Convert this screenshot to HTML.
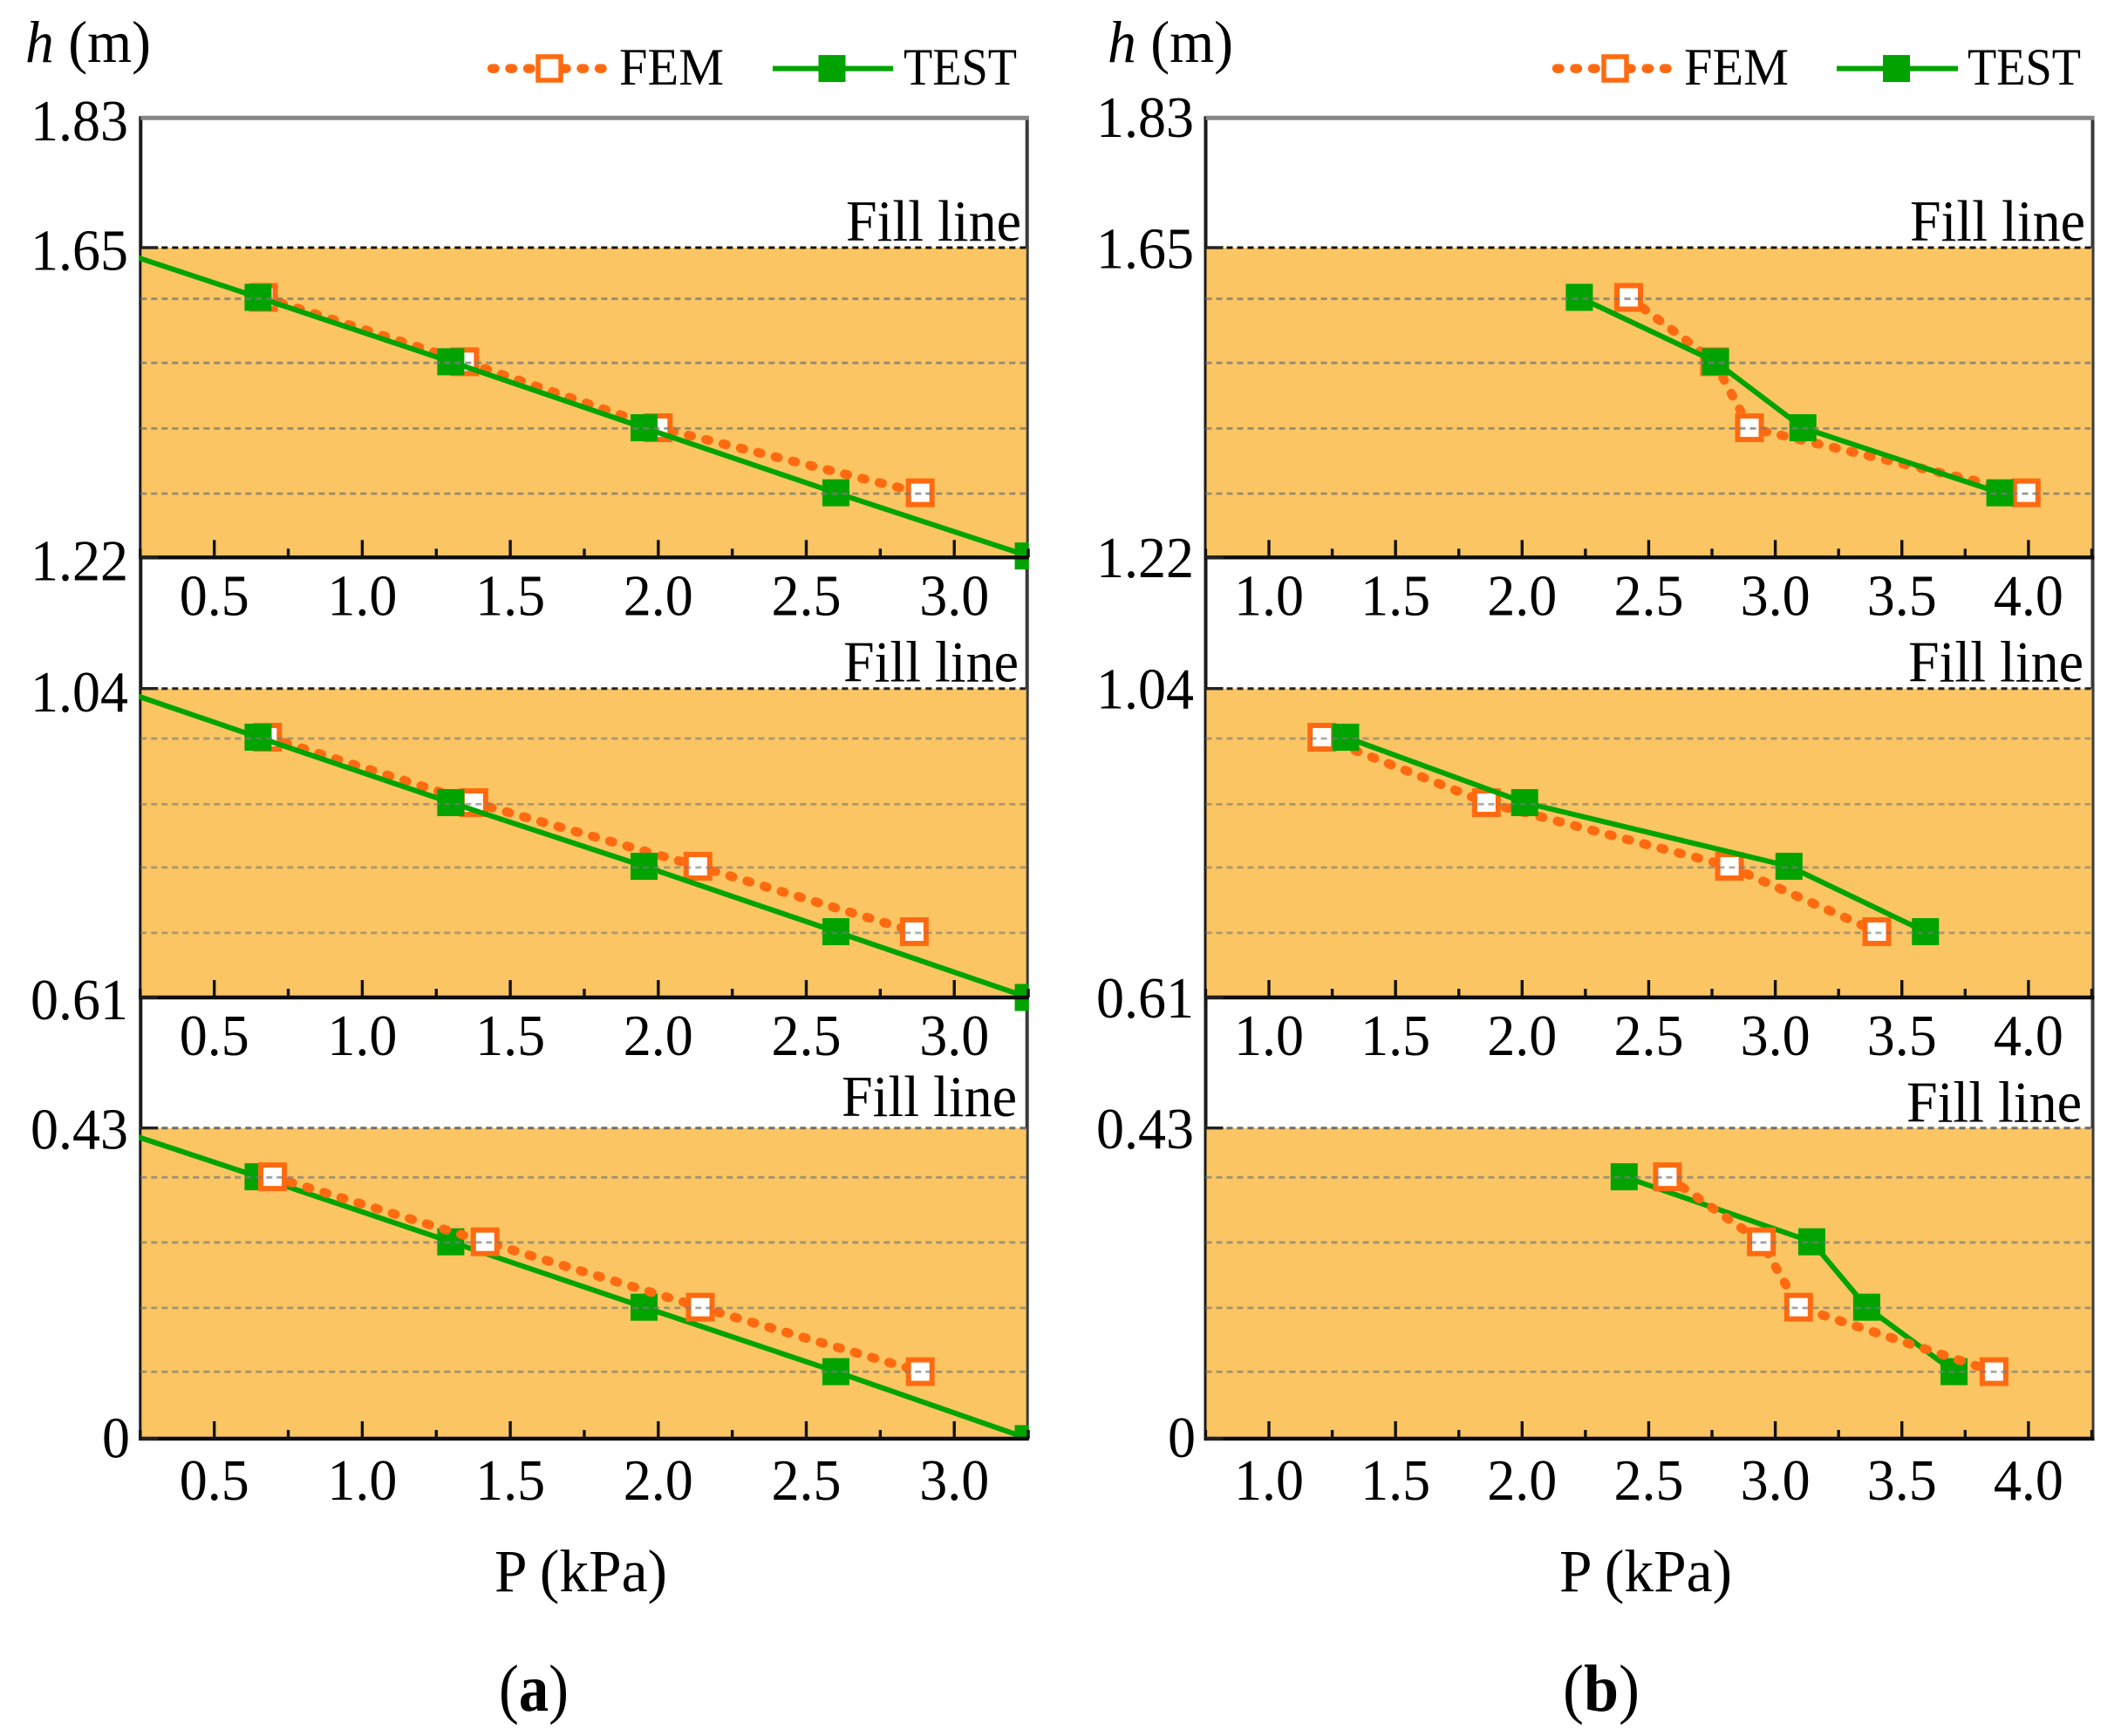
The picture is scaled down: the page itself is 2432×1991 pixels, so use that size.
<!DOCTYPE html>
<html lang="en">
<head>
<meta charset="utf-8">
<title>Pressure versus height: FEM and TEST</title>
<style>
html,body{margin:0;padding:0;background:#fff;}
svg{display:block;font-family:"Liberation Serif","Times New Roman",serif;fill:#000;}
text{fill:#000;}
</style>
</head>
<body>
<svg id="chart" xmlns="http://www.w3.org/2000/svg" width="2432" height="1991" viewBox="0 0 2432 1991">
  <rect x="0" y="0" width="2432" height="1991" fill="#ffffff"/>

  <g>
    <text x="29" y="71" font-size="68" textLength="144" lengthAdjust="spacingAndGlyphs"><tspan font-style="italic">h</tspan> (m)</text>
    <line x1="564" y1="78.6" x2="694" y2="78.6" stroke="#FF6A10" stroke-width="10.5" stroke-linecap="round" stroke-dasharray="3.5 17"/>
    <rect x="617" y="65" width="26" height="27" fill="#ffffff" stroke="#FF6A10" stroke-width="5.5"/>
    <text x="710" y="97" font-size="60" textLength="120" lengthAdjust="spacingAndGlyphs">FEM</text>
    <line x1="886" y1="78.6" x2="1024" y2="78.6" stroke="#00A300" stroke-width="6"/>
    <rect x="938.5" y="63.1" width="31" height="31" fill="#00A300"/>
    <text x="1036" y="97" font-size="60" textLength="130" lengthAdjust="spacingAndGlyphs">TEST</text>
    <text x="666" y="1825" font-size="69" text-anchor="middle" textLength="198" lengthAdjust="spacingAndGlyphs">P (kPa)</text>
    <text x="612" y="1962" font-size="76" font-weight="bold" text-anchor="middle" textLength="80" lengthAdjust="spacingAndGlyphs"><tspan font-weight="normal">(</tspan>a<tspan font-weight="normal">)</tspan></text>
  </g>

  <g>
    <text x="1270" y="71" font-size="68" textLength="144" lengthAdjust="spacingAndGlyphs"><tspan font-style="italic">h</tspan> (m)</text>
    <line x1="1785" y1="78.6" x2="1915" y2="78.6" stroke="#FF6A10" stroke-width="10.5" stroke-linecap="round" stroke-dasharray="3.5 17"/>
    <rect x="1839" y="65" width="26" height="27" fill="#ffffff" stroke="#FF6A10" stroke-width="5.5"/>
    <text x="1931" y="97" font-size="60" textLength="120" lengthAdjust="spacingAndGlyphs">FEM</text>
    <line x1="2106" y1="78.6" x2="2245" y2="78.6" stroke="#00A300" stroke-width="6"/>
    <rect x="2159" y="63.1" width="31" height="31" fill="#00A300"/>
    <text x="2256" y="97" font-size="60" textLength="130" lengthAdjust="spacingAndGlyphs">TEST</text>
    <text x="1887" y="1825" font-size="69" text-anchor="middle" textLength="198" lengthAdjust="spacingAndGlyphs">P (kPa)</text>
    <text x="1836" y="1962" font-size="76" font-weight="bold" text-anchor="middle" textLength="88" lengthAdjust="spacingAndGlyphs"><tspan font-weight="normal">(</tspan>b<tspan font-weight="normal">)</tspan></text>
  </g>

  <defs id="chart-defs"></defs>
  <g id="plots"></g>
</svg>

<script>
/* ---------- data ---------- */
const xTickLabelsA = ["0.5", "1.0", "1.5", "2.0", "2.5", "3.0"];
const xTickLabelsB = ["1.0", "1.5", "2.0", "2.5", "3.0", "3.5", "4.0"];

const yTicksUpper = [1.83, 1.65, 1.22];
const yTicksMiddle = [1.04, 0.61];
const yTicksLower = [0.43, 0];
const yTickLabelsUpper = ["1.83", "1.65", "1.22"];
const yTickLabelsMiddle = ["1.04", "0.61"];
const yTickLabelsLower = ["0.43", "0"];

const gridHeightsUpper = [1.579, 1.490, 1.399, 1.3086];
const gridHeightsMiddle = [0.9705, 0.879, 0.791, 0.700];
const gridHeightsLower = [0.3617, 0.2716, 0.181, 0.0926];

const sensorHeightsUpper = [1.581, 1.4916, 1.400, 1.3097];
const sensorHeightsMiddle = [0.9723, 0.8812, 0.7926, 0.7016];
const sensorHeightsLower = [0.3625, 0.2725, 0.182, 0.0928];

/* Panel (a): TEST is a straight profile, running off-frame at both ends */
const testHeightsAUpper = [1.669, 1.581, 1.4916, 1.400, 1.3097, 1.222];
const testHeightsAMiddle = [1.0635, 0.9723, 0.8812, 0.7926, 0.7016, 0.61];
const testHeightsALower = [0.4505, 0.3625, 0.2725, 0.182, 0.0928, 0];
const testPressureAUpper = [0, 0.648, 1.299, 1.952, 2.6, 3.25];
const testPressureAMiddle = [0, 0.648, 1.299, 1.952, 2.6, 3.25];
const testPressureALower = [0, 0.648, 1.299, 1.952, 2.6, 3.25];
const femPressureAUpper = [0.666, 1.346, 2.0, 2.885];
const femPressureAMiddle = [0.68, 1.377, 2.134, 2.865];
const femPressureALower = [0.697, 1.415, 2.142, 2.885];

/* Panel (b) */
const testPressureBUpper = [2.226, 2.764, 3.109, 3.887];
const testPressureBMiddle = [1.303, 2.01, 3.054, 3.593];
const testPressureBLower = [2.403, 3.144, 3.361, 3.706];
const femPressureBUpper = [2.421, 2.76, 2.898, 3.991];
const femPressureBMiddle = [1.209, 1.859, 2.819, 3.401];
const femPressureBLower = [2.574, 2.945, 3.092, 3.864];

/* ---------- layout ---------- */
const columnA = {id:'a', pMin:0.25, pMax:3.25, xAt:245.7, pAt:0.5, unit:339.4, left:161.3, right:1177.7, tickStart:0.25, tickCount:13, labelRight:147, labels:xTickLabelsA, labelStart:0.5};
const columnB = {id:'b', pMin:0.75, pMax:4.25, xAt:1455, pAt:1.0, unit:290.3, left:1382.5, right:2399.5, tickStart:0.75, tickCount:15, labelRight:1369, labels:xTickLabelsB, labelStart:1.0};

const rowUpper = {id:'upper', hFill:1.65, hBottom:1.22, yFill:284, yBottom:639.3, ticks:yTicksUpper, tickLabels:yTickLabelsUpper, grid:gridHeightsUpper, sensors:sensorHeightsUpper, clipBottom:660, labelY:705.3, fillColor:'#111111', gridOpacity:0.78};
const rowMiddle = {id:'middle', hFill:1.04, hBottom:0.61, yFill:789.7, yBottom:1144, ticks:yTicksMiddle, tickLabels:yTickLabelsMiddle, grid:gridHeightsMiddle, sensors:sensorHeightsMiddle, clipBottom:1165, labelY:1210, fillColor:'#222222', gridOpacity:0.62};
const rowLower = {id:'lower', hFill:0.43, hBottom:0, yFill:1293.7, yBottom:1650, ticks:yTicksLower, tickLabels:yTickLabelsLower, grid:gridHeightsLower, sensors:sensorHeightsLower, clipBottom:1652, labelY:1720, fillColor:'#6e6e6e', gridOpacity:0.68};

const yLabelNudgeA = {'1.83':25.3,'1.65':25.3,'1.22':26.4,'1.04':26.3,'0.61':25,'0.43':24,'0':21.7};
const yLabelNudgeB = {'1.83':21.5,'1.65':23.3,'1.22':22.7,'1.04':23,'0.61':23,'0.43':23.5,'0':21};
const fillLabelSpots = {
  'a-upper':{right:1171, base:276}, 'a-middle':{right:1168, base:781.7}, 'a-lower':{right:1166, base:1280},
  'b-upper':{right:2391, base:276}, 'b-middle':{right:2389, base:781.7}, 'b-lower':{right:2387, base:1286.7}
};

const panels = [
  {col:columnA, row:rowUpper,  testP:testPressureAUpper,  testH:testHeightsAUpper,  femP:femPressureAUpper,  femOnTop:false},
  {col:columnA, row:rowMiddle, testP:testPressureAMiddle, testH:testHeightsAMiddle, femP:femPressureAMiddle, femOnTop:false},
  {col:columnA, row:rowLower,  testP:testPressureALower,  testH:testHeightsALower,  femP:femPressureALower,  femOnTop:true},
  {col:columnB, row:rowUpper,  testP:testPressureBUpper,  testH:sensorHeightsUpper,  femP:femPressureBUpper,  femOnTop:false},
  {col:columnB, row:rowMiddle, testP:testPressureBMiddle, testH:sensorHeightsMiddle, femP:femPressureBMiddle, femOnTop:false},
  {col:columnB, row:rowLower,  testP:testPressureBLower,  testH:sensorHeightsLower,  femP:femPressureBLower,  femOnTop:true}
];

/* ---------- helpers ---------- */
const NS = 'http://www.w3.org/2000/svg';
const GREEN = '#00A300', ORANGE = '#FF6A10', SAND = '#FAC562', INK = '#1a1a1a';
const root = document.getElementById('plots');
const defs = document.getElementById('chart-defs');

function make(parent, tag, attrs) {
  const el = document.createElementNS(NS, tag);
  for (const k in attrs) el.setAttribute(k, attrs[k]);
  parent.appendChild(el);
  return el;
}
function xScale(col, p) { return col.xAt + (p - col.pAt) * col.unit; }
function yScale(row, h) { return row.yFill + (row.hFill - h) * (row.yBottom - row.yFill) / (row.hFill - row.hBottom); }
function pathOf(col, row, ps, hs) {
  return ps.map(function (p, i) { return (i ? 'L' : 'M') + xScale(col, p).toFixed(1) + ' ' + yScale(row, hs[i]).toFixed(1); }).join(' ');
}
/* keeps the narrow, tall glyph proportions of the original labels */
function numberWidth(label) {
  let em = 0;
  for (const c of label) em += c === '.' ? 0.25 : 0.5;
  return em * 64;
}

function drawTest(group, panel, clipId) {
  const col = panel.col, row = panel.row;
  const line = make(group, 'path', {d:pathOf(col, row, panel.testP, panel.testH), fill:'none', stroke:GREEN, 'stroke-width':6, 'clip-path':'url(#' + clipId + ')'});
  
  
  panel.testP.forEach(function (p, i) {
    const m = make(group, 'rect', {x:xScale(col, p) - 15.5, y:yScale(row, panel.testH[i]) - 15.5, width:31, height:31, fill:GREEN, 'clip-path':'url(#' + clipId + ')'});
    
    
  });
}

function drawFem(group, panel, clipId) {
  const col = panel.col, row = panel.row;
  const line = make(group, 'path', {d:pathOf(col, row, panel.femP, row.sensors), fill:'none', stroke:ORANGE, 'stroke-width':10.5, 'stroke-linecap':'round', 'stroke-dasharray':'3.5 17', 'clip-path':'url(#' + clipId + ')'});
  
  
  panel.femP.forEach(function (p, i) {
    const m = make(group, 'rect', {x:xScale(col, p) - 13.5, y:yScale(row, row.sensors[i]) - 13.5, width:27, height:27, fill:'#ffffff', stroke:ORANGE, 'stroke-width':6, 'clip-path':'url(#' + clipId + ')'});
    
    
  });
}

/* ---------- frame lines for both columns ---------- */
[columnA, columnB].forEach(function (col) {
  const top = yScale(rowUpper, 1.83);
  const leftAxis = make(root, 'line', {x1:col.left, y1:top - 2, x2:col.left, y2:1652, stroke:INK, 'stroke-width':4});
  
  
  const rightAxis = make(root, 'line', {x1:col.right, y1:top - 2, x2:col.right, y2:1652, stroke:'#3a3a3a', 'stroke-width':4});
  
  
});

/* ---------- panels ---------- */
panels.forEach(function (panel) {
  const col = panel.col, row = panel.row;
  const key = col.id + '-' + row.id;
  const clipId = 'clip-' + key;

  const group = make(root, 'g', {});
  
  

  const clip = make(defs, 'clipPath', {id:clipId});
  make(clip, 'rect', {x:col.left - 2, y:row.yFill - 40, width:col.right - col.left + 4, height:row.clipBottom - row.yFill + 40});

  const band = make(group, 'rect', {x:col.left + 1, y:row.yFill, width:col.right - col.left - 2, height:row.yBottom - row.yFill, fill:SAND});
  
  

  if (panel.femOnTop) {
    drawTest(group, panel, clipId);
    drawFem(group, panel, clipId);
  } else {
    drawFem(group, panel, clipId);
    drawTest(group, panel, clipId);
  }

  row.grid.forEach(function (h) {
    const g = make(group, 'line', {x1:col.left, y1:yScale(row, h), x2:col.right, y2:yScale(row, h), stroke:'#7a7a7a', 'stroke-width':2.8, 'stroke-dasharray':'7 5', opacity:row.gridOpacity});
    
    
  });

  const fillLine = make(group, 'line', {x1:col.left, y1:row.yFill, x2:col.right, y2:row.yFill, stroke:row.fillColor, 'stroke-width':3, 'stroke-dasharray':'7 5'});
  
  

  const spot = fillLabelSpots[key];
  const fillText = make(group, 'text', {x:spot.right, y:spot.base, 'font-size':67, 'text-anchor':'end', textLength:201, lengthAdjust:'spacingAndGlyphs'});
  fillText.textContent = 'Fill line';
  
  

  const bottom = make(group, 'line', {x1:col.left - 2, y1:row.yBottom, x2:col.right + 2, y2:row.yBottom, stroke:'#0c0c0c', 'stroke-width':4.4});
  
  

  for (let i = 0; i < col.tickCount; i++) {
    const p = col.tickStart + i * 0.25;
    const isMajor = i % 2 === 1;
    const t = make(group, 'line', {x1:xScale(col, p), y1:row.yBottom, x2:xScale(col, p), y2:row.yBottom - (isMajor ? 20 : 10), stroke:'#111111', 'stroke-width':3.4});
    
    
  }

  col.labels.forEach(function (label, i) {
    const lab = make(group, 'text', {x:xScale(col, col.labelStart + i * 0.5), y:row.labelY, 'font-size':67, 'text-anchor':'middle', textLength:numberWidth(label), lengthAdjust:'spacingAndGlyphs'});
    lab.textContent = label;
    
    
  });

  const nudge = col.id === 'a' ? yLabelNudgeA : yLabelNudgeB;
  row.ticks.forEach(function (h, i) {
    const y = h === 1.83 ? 135.7 : yScale(row, h);
    const label = row.tickLabels[i];
    const t = make(group, 'line', {x1:col.left, y1:y, x2:col.left + 20, y2:y, stroke:'#222222', 'stroke-width':3.4});
    
    
    const lab = make(group, 'text', {x:col.labelRight + (label === '0' ? 2 : 0), y:y + nudge[label], 'font-size':67, 'text-anchor':'end', textLength:numberWidth(label), lengthAdjust:'spacingAndGlyphs'});
    lab.textContent = label;
    
    
  });
});

/* ---------- gray top frame line ---------- */
[columnA, columnB].forEach(function (col) {
  const y = yScale(rowUpper, 1.83);
  const topAxis = make(root, 'line', {x1:col.left, y1:y, x2:col.right + 2, y2:y, stroke:'#858585', 'stroke-width':5});
  
  
});
</script>
</body>
</html>
